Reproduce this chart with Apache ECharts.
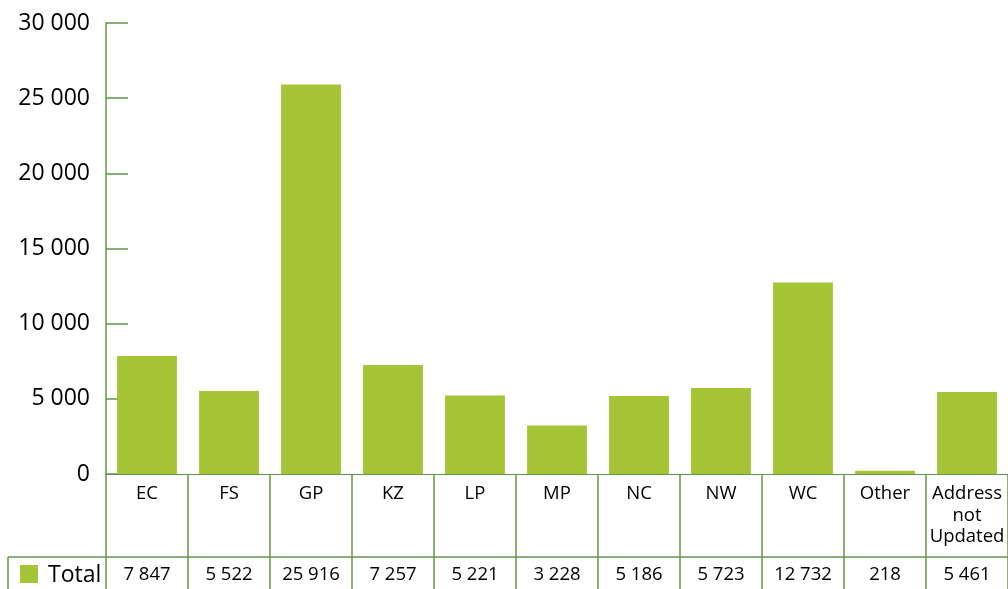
<!DOCTYPE html>
<html>
<head>
<meta charset="utf-8">
<script src="https://cdn.jsdelivr.net/npm/echarts@6/dist/echarts.min.js"></script>
<style>
html,body{margin:0;padding:0;background:#fff;}
#c{width:1008px;height:589px;}
</style>
</head>
<body>
<div id="c"></div>
<script>
const categories = ['EC','FS','GP','KZ','LP','MP','NC','NW','WC','Other','Address\nnot\nUpdated'];
const totals = [7847, 5522, 25916, 7257, 5221, 3228, 5186, 5723, 12732, 218, 5461];
const yTicks = [0, 5000, 10000, 15000, 20000, 25000, 30000];
const seriesName = 'Total';

const FONT = '"Open Sans", "Noto Sans", sans-serif';
const BAR = '#a5c536';
const LINE = '#66934a';

function fmt(v){
  return String(v).replace(/\B(?=(\d{3})+(?!\d))/g, ' ');
}

const chart = echarts.init(document.getElementById('c'), null, {renderer:'canvas'});
chart.setOption({
  animation:false,
  grid:{left:106, right:0, top:23, bottom:115, containLabel:false},
  xAxis:[{
    type:'category',
    data:categories,
    position:'bottom',
    axisLine:{show:true, lineStyle:{color:LINE, width:1}},
    axisTick:{show:true, length:115, interval:0, lineStyle:{color:LINE, width:1.5}},
    axisLabel:{interval:0, margin:9, color:'#000', fontFamily:FONT, fontSize:18.5, lineHeight:21.5}
  },{
    type:'category',
    data:totals.map(fmt),
    position:'bottom',
    offset:83,
    axisLine:{show:true, lineStyle:{color:LINE, width:1.5}},
    axisTick:{show:false},
    axisLabel:{interval:0, margin:8, color:'#000', fontFamily:FONT, fontSize:18.5}
  }],
  yAxis:{
    type:'value',
    min:yTicks[0],
    max:yTicks[yTicks.length-1],
    interval:yTicks[1]-yTicks[0],
    axisLine:{show:true, lineStyle:{color:LINE, width:1.5}},
    axisTick:{show:true, inside:true, length:22, lineStyle:{color:LINE, width:1.5}},
    splitLine:{show:false},
    axisLabel:{margin:16, color:'#000', fontFamily:FONT, fontSize:23, formatter:v=>fmt(v)}
  },
  series:[{
    name:seriesName,
    type:'bar',
    data:totals,
    xAxisIndex:0,
    barCategoryGap:'27%',
    itemStyle:{color:BAR},
    z:1
  }],
  legend:{show:false},
  graphic:[
    {type:'line', shape:{x1:8,y1:557,x2:106,y2:557}, style:{stroke:LINE, lineWidth:1.5}},
    {type:'line', shape:{x1:8,y1:557,x2:8,y2:589}, style:{stroke:LINE, lineWidth:1.5}},
    {type:'rect', shape:{x:20,y:565,width:18,height:18}, style:{fill:BAR}},
    {type:'text', x:48, y:575, style:{text:seriesName, font:'23px '+FONT, fill:'#000', textVerticalAlign:'middle', verticalAlign:'middle'}}
  ]
});
</script>
</body>
</html>
